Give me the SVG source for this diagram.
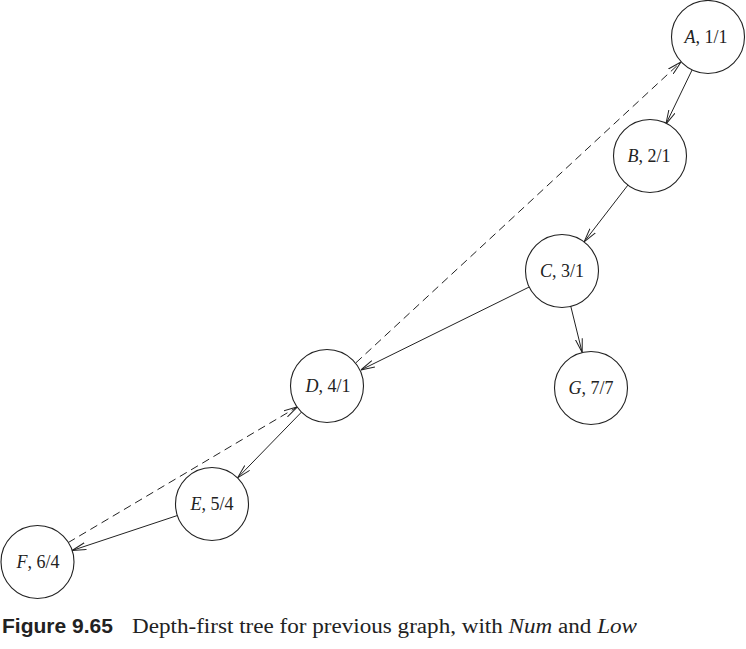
<svg xmlns="http://www.w3.org/2000/svg" width="746" height="649" viewBox="0 0 746 649">
<defs>
<style>
.node circle{fill:#fff;stroke:#222;stroke-width:1.1}
.node text{font-family:"Liberation Serif",serif;font-size:18px;fill:#222;text-anchor:middle}
.node text tspan.v{font-style:italic}
.edge{stroke:#222;stroke-width:1;fill:none;marker-end:url(#arr)}
.back{stroke-dasharray:8,5}
.cap{font-family:"Liberation Serif",serif;font-size:20px;fill:#222}
.capb{font-family:"Liberation Sans",sans-serif;font-weight:bold;font-size:20px;fill:#222}
</style>
<marker id="arr" viewBox="0 0 14 8" refX="14" refY="4" markerWidth="14" markerHeight="8" markerUnits="userSpaceOnUse" orient="auto">
<path d="M0,0.5 L14,4 L0,7.5" fill="none" stroke="#222" stroke-width="1"/>
</marker>
</defs>
<rect width="746" height="649" fill="#fff"/>
<g id="connectors">
<line class="edge" x1="692.1" y1="69.9" x2="665.9" y2="124.1"/>
<line class="edge" x1="627.9" y1="185.1" x2="584.1" y2="241.9"/>
<line class="edge" x1="529.2" y1="287.0" x2="360.8" y2="370.0"/>
<line class="edge" x1="570.8" y1="306.4" x2="582.2" y2="352.6"/>
<line class="edge" x1="301.5" y1="412.1" x2="237.5" y2="477.9"/>
<line class="edge" x1="177.4" y1="515.5" x2="72.1" y2="550.5"/>
<line class="edge back" x1="68" y1="542.7" x2="297.7" y2="406.7"/>
<line class="edge back" x1="356" y1="362.7" x2="681" y2="62"/>
</g>
<g id="node-A" class="node"><circle cx="708" cy="37" r="36.5"/><text x="706" y="43"><tspan class="v">A</tspan>, 1/1</text></g>
<g id="node-B" class="node"><circle cx="650" cy="156" r="36.5"/><text x="649" y="162"><tspan class="v">B</tspan>, 2/1</text></g>
<g id="node-C" class="node"><circle cx="562" cy="271" r="36.5"/><text x="562" y="277"><tspan class="v">C</tspan>, 3/1</text></g>
<g id="node-D" class="node"><circle cx="327" cy="386" r="36.5"/><text x="328" y="392"><tspan class="v">D</tspan>, 4/1</text></g>
<g id="node-G" class="node"><circle cx="591" cy="388" r="36.5"/><text x="591" y="394"><tspan class="v">G</tspan>, 7/7</text></g>
<g id="node-E" class="node"><circle cx="212" cy="504" r="36.5"/><text x="212" y="510"><tspan class="v">E</tspan>, 5/4</text></g>
<g id="node-F" class="node"><circle cx="37.5" cy="562" r="36.5"/><text x="38" y="568"><tspan class="v">F</tspan>, 6/4</text></g>
<g id="caption">
<text class="capb" x="2" y="633" textLength="111" lengthAdjust="spacingAndGlyphs">Figure 9.65</text>
<text class="cap" x="132" y="633" textLength="505" lengthAdjust="spacingAndGlyphs">Depth-first tree for previous graph, with <tspan font-style="italic">Num</tspan> and <tspan font-style="italic">Low</tspan></text>
</g>
</svg>
